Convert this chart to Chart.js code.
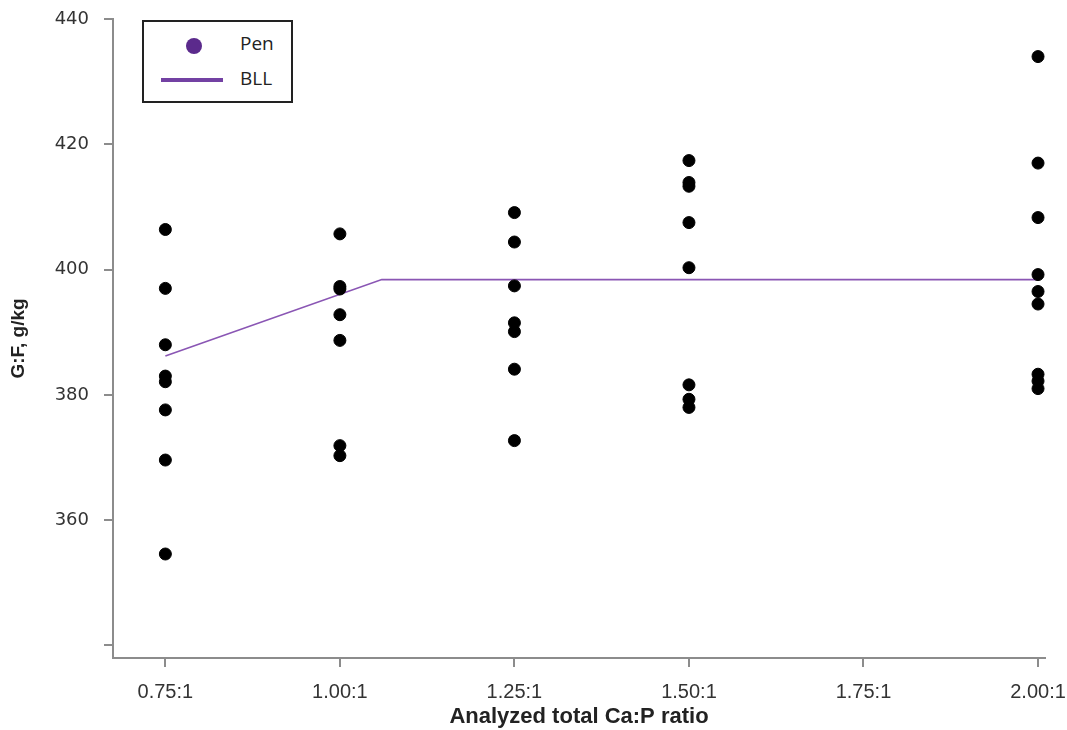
<!DOCTYPE html>
<html>
<head>
<meta charset="utf-8">
<script src="https://cdn.jsdelivr.net/npm/chart.js@4"></script>
<style>
  html, body { margin: 0; padding: 0; background: #fff; }
  #wrap { position: relative; width: 1067px; height: 730px; }
  #legend { position: absolute; left: 142px; top: 20px; width: 147px; height: 79px;
    border: 2px solid #222; background: #fff; font-family: "Open Sans", "Liberation Sans", sans-serif;
    font-size: 19px; color: #222; }
  .dot { position: absolute; left: 42px; top: 16px; width: 16px; height: 16px; border-radius: 50%; background: #5b2a8c; }
  .line { position: absolute; left: 17px; top: 56px; width: 62px; height: 4px; background: #7341a3; }
  .lab1 { position: absolute; left: 96px; top: 8px; }
  .lab2 { position: absolute; left: 96px; top: 43px; }
</style>
</head>
<body>
<div id="wrap">
  <canvas id="c" width="1067" height="730"></canvas>
  <div id="legend">
    <div class="dot"></div><div class="lab1">Pen</div>
    <div class="line"></div><div class="lab2">BLL</div>
  </div>
</div>
<script>
// ---- data ----
const ratios = [0.75, 1.00, 1.25, 1.50, 2.00];
const gf075 = [406.4, 397.0, 388.0, 383.0, 382.1, 377.6, 369.6, 354.6];
const gf100 = [405.7, 397.3, 396.9, 392.8, 388.7, 371.9, 370.3];
const gf125 = [409.1, 404.4, 397.4, 391.5, 390.1, 384.1, 372.7];
const gf150 = [417.4, 413.9, 413.3, 407.5, 400.3, 381.6, 379.3, 378.0];
const gf200 = [434.0, 417.0, 408.3, 399.2, 396.5, 394.5, 383.3, 382.2, 381.0];
const bllX = [0.75, 1.06, 2.00];
const bllY = [386.2, 398.4, 398.4];
const xTickValues = [0.75, 1.00, 1.25, 1.50, 1.75, 2.00];
const xTickLabels = ['0.75:1', '1.00:1', '1.25:1', '1.50:1', '1.75:1', '2.00:1'];
const yTickValues = [340, 360, 380, 400, 420, 440];
const yTickLabels = ['', '360', '380', '400', '420', '440'];

const groups = [gf075, gf100, gf125, gf150, gf200];
const penPoints = [];
groups.forEach((g, i) => g.forEach(v => penPoints.push({x: ratios[i], y: v})));
const bllPoints = bllX.map((x, i) => ({x: x, y: bllY[i]}));

const axisGray = '#8c8c8c';
new Chart(document.getElementById('c'), {
  type: 'scatter',
  data: {
    datasets: [
      { label: 'Pen', data: penPoints, backgroundColor: '#000', borderColor: '#000',
        pointRadius: 6, pointHoverRadius: 6, order: 0 },
      { label: 'BLL', type: 'line', data: bllPoints, borderColor: '#8a56b4', borderWidth: 1.6,
        pointRadius: 0, fill: false, tension: 0, order: 1 }
    ]
  },
  options: {
    responsive: false,
    animation: false,
    events: [],
    layout: { padding: { left: 0, right: 22, top: 19, bottom: 0 } },
    plugins: { legend: { display: false }, tooltip: { enabled: false } },
    scales: {
      x: {
        type: 'linear', min: 0.675, max: 2.01,
        afterBuildTicks: s => { s.ticks = xTickValues.map(v => ({value: v})); },
        afterFit: s => { s.height = 72; s.paddingLeft = 0; s.paddingRight = 0; },
        ticks: { callback: (v, i) => xTickLabels[i], color: '#333', padding: 13,
          font: { family: '"Liberation Sans", sans-serif', size: 20 } },
        grid: { display: true, drawOnChartArea: false, drawTicks: true, tickLength: 9, color: axisGray, lineWidth: 2 },
        border: { display: true, color: axisGray, width: 2 },
        title: { display: true, text: 'Analyzed total Ca:P ratio', color: '#222',
          font: { family: '"Liberation Sans", sans-serif', size: 22, weight: 'bold' },
          padding: { top: 4, bottom: 0 } }
      },
      y: {
        type: 'linear', min: 338, max: 440,
        afterBuildTicks: s => { s.ticks = yTickValues.map(v => ({value: v})); },
        afterFit: s => { s.width = 113; s.paddingTop = 0; s.paddingBottom = 0; },
        ticks: { callback: (v, i) => yTickLabels[i], color: '#333', padding: 15,
          font: { family: '"DejaVu Sans", sans-serif', size: 18 } },
        grid: { display: true, drawOnChartArea: false, drawTicks: true, tickLength: 9, color: axisGray, lineWidth: 2 },
        border: { display: true, color: axisGray, width: 2 },
        title: { display: true, text: 'G:F, g/kg', color: '#222',
          font: { family: '"Liberation Sans", sans-serif', size: 19, weight: 'bold' },
          padding: { top: 7, bottom: 0 } }
      }
    }
  }
});
</script>
</body>
</html>
